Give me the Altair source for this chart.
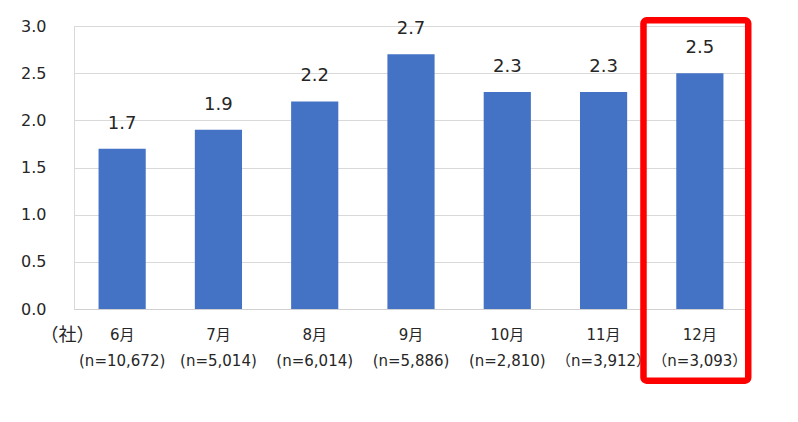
import altair as alt
import pandas as pd

months = ["6月", "7月", "8月", "9月", "10月", "11月", "12月"]
n_labels = ["(n=10,672)", "(n=5,014)", "(n=6,014)", "(n=5,886)", "(n=2,810)", "（n=3,912）", "（n=3,093）"]
values = [1.7, 1.9, 2.2, 2.7, 2.3, 2.3, 2.5]
y_ticks = [0, 0.5, 1.0, 1.5, 2.0, 2.5, 3.0]
unit_label = "（社）"

cats = [f"{m}\n{n}" for m, n in zip(months, n_labels)]
df = pd.DataFrame({"cat": cats, "value": values})
highlight = pd.DataFrame({"cat": [cats[-1]], "top": [3.06], "bottom": [-0.76]})

FONT = "DejaVu Sans, Noto Sans CJK JP"
CJK = "Noto Sans CJK JP"
TXT = "#262626"

x_enc = alt.X(
    "cat:N",
    sort=cats,
    scale=alt.Scale(paddingInner=0.51, paddingOuter=0.255),
    axis=alt.Axis(
        title=None,
        labelAngle=0,
        labelExpr="split(datum.label, '\\n')",
        labelFontSize=15,
        labelLineHeight=26,
        labelPadding=18,
        labelBaseline="top",
        labelColor=TXT,
        labelFont=FONT,
        ticks=False,
        domainColor="#d0d0d0",
        domainWidth=1,
    ),
)

y_scale = alt.Scale(domain=[0, 3], nice=False, zero=True)

bars = alt.Chart(df).mark_bar(color="#4472C4").encode(
    x=x_enc,
    y=alt.Y(
        "value:Q",
        scale=y_scale,
        axis=alt.Axis(
            values=y_ticks,
            format=".1f",
            labelFontSize=16,
            labelPadding=28,
            labelColor=TXT,
            labelFont=FONT,
            ticks=False,
            domain=True,
            domainColor="#d9d9d9",
            gridColor="#d9d9d9",
            title=unit_label,
            titleAngle=0,
            titleX=-7,
            titleY=309,
            titleAlign="center",
            titleBaseline="middle",
            titleFontSize=18,
            titleFontWeight="normal",
            titleColor=TXT,
            titleFont=CJK,
        ),
    ),
)

labels = alt.Chart(df).mark_text(
    dy=-25, fontSize=18, font=FONT, color=TXT, baseline="middle"
).encode(
    x=alt.X("cat:N", sort=cats),
    y=alt.Y("value:Q", scale=y_scale),
    text=alt.Text("value:Q", format=".1f"),
)

box = alt.Chart(highlight).mark_bar(
    filled=False,
    stroke="#ff0000",
    strokeWidth=6.5,
    cornerRadius=3,
    width=alt.RelativeBandSize(band=2.22),
    xOffset=-4,
).encode(
    x=alt.X("cat:N", sort=cats),
    y=alt.Y("top:Q", scale=y_scale),
    y2="bottom:Q",
)

chart = (
    alt.layer(bars, labels, box)
    .properties(
        width=674,
        height=283,
        autosize=alt.AutoSizeParams(type="none"),
        padding={"left": 66, "top": 18, "right": 42, "bottom": 105},
    )
    .configure_view(stroke=None)
    .configure(background="white")
)

chart.save("out.html", embed_options={"renderer": "svg", "actions": False})
